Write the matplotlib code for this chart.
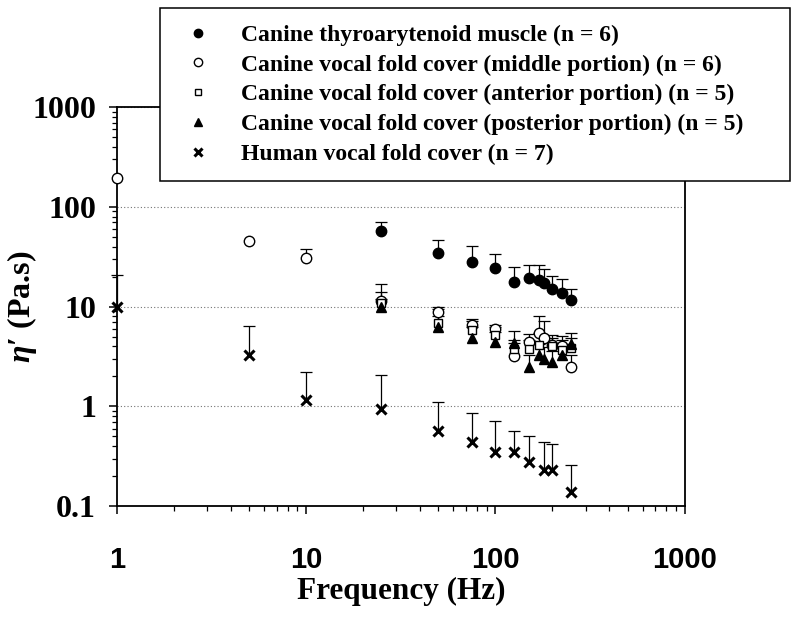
import numpy as np
import matplotlib
matplotlib.use('Agg')
import matplotlib.pyplot as plt
from matplotlib.lines import Line2D
from matplotlib.ticker import NullFormatter

plt.rcParams['mathtext.fontset'] = 'custom'
plt.rcParams['mathtext.it'] = 'Liberation Serif:italic:bold'
plt.rcParams['mathtext.rm'] = 'Liberation Serif:bold'
plt.rcParams['mathtext.bf'] = 'Liberation Serif:bold'

# --- данные (среднее и верхняя граница планки) ---
freq_ta = [25, 50, 75, 100, 125, 150, 170, 180, 200, 225, 250]
ta_mean = [57, 34.5, 28, 24.6, 17.6, 19.2, 18.3, 17.1, 14.9, 13.8, 11.6]
ta_upper = [70, 47, 40.5, 34, 25, 26, 26, 23.7, 20.3, 18.8, 15.2]

freq_mid = [1, 5, 10, 25, 50, 75, 100, 125, 150, 170, 180, 200, 225, 250]
mid_mean = [195, 45.5, 31, 11.5, 8.8, 6.6, 6.0, 3.2, 4.4, 5.5, 4.8, 4.1, 4.0, 2.5]
mid_upper = [195, 45.5, 38, 17, 10, 7.6, 6.6, 4.3, 5.3, 8.0, 7.2, 5.2, 5.1, 3.3]

freq_ant = [25, 50, 75, 100, 125, 150, 170, 200, 225, 250]
ant_mean = [11, 6.8, 5.8, 5.2, 3.8, 3.8, 4.15, 4.0, 3.7, 3.85]
ant_upper = [14, 9.5, 7.2, 6.3, 4.6, 4.6, 5.4, 4.8, 4.6, 4.9]

freq_post = [25, 50, 75, 100, 125, 150, 170, 180, 200, 225, 250]
post_mean = [10, 6.3, 4.9, 4.4, 4.3, 2.5, 3.3, 3.0, 2.8, 3.3, 4.2]
post_upper = [12, 8.0, 6.3, 5.6, 5.7, 3.3, 4.2, 3.9, 3.6, 4.2, 5.5]

freq_hum = [1, 5, 10, 25, 50, 75, 100, 125, 150, 180, 200, 250]
hum_mean = [10, 3.25, 1.15, 0.95, 0.57, 0.44, 0.35, 0.35, 0.28, 0.23, 0.23, 0.138]
hum_upper = [20.6, 6.4, 2.2, 2.05, 1.1, 0.85, 0.72, 0.57, 0.50, 0.435, 0.415, 0.26]

labels = [
    "Canine thyroarytenoid muscle (n = 6)",
    "Canine vocal fold cover (middle portion) (n = 6)",
    "Canine vocal fold cover (anterior portion) (n = 5)",
    "Canine vocal fold cover (posterior portion) (n = 5)",
    "Human vocal fold cover (n = 7)",
]

styles = [
    dict(marker='o', ms=7.5, mfc='black', mec='black', mew=1),
    dict(marker='o', ms=7.5, mfc='white', mec='black', mew=1),
    dict(marker='s', ms=6.2, mfc='white', mec='black', mew=1),
    dict(marker='^', ms=7.2, mfc='black', mec='black', mew=1),
    dict(marker='x', ms=6.5, mfc='black', mec='black', mew=2.2),
]

fig = plt.figure(figsize=(8, 6.18), dpi=100)
ax = fig.add_axes([0.146, 0.181, 0.71, 0.6456])


def draw_series(f, mean, upper, style):
    f = np.asarray(f, float)
    mean = np.asarray(mean, float)
    upper = np.asarray(upper, float)
    has = upper > mean * 1.001
    ax.vlines(f[has], mean[has], upper[has], colors='black', lw=0.9,
              zorder=2, clip_on=False)
    ax.plot(f[has], upper[has], ls='none', marker='_', ms=9, mew=0.9,
            color='black', zorder=2, clip_on=False)
    ax.plot(f, mean, ls='none', zorder=3, clip_on=False, **style)


series = [
    (freq_ta, ta_mean, ta_upper),
    (freq_mid, mid_mean, mid_upper),
    (freq_ant, ant_mean, ant_upper),
    (freq_post, post_mean, post_upper),
    (freq_hum, hum_mean, hum_upper),
]
for (f, m, u), st in zip(series, styles):
    draw_series(f, m, u, st)

ax.set_xscale('log')
ax.set_yscale('log')
ax.set_xlim(1, 1000)
ax.set_ylim(0.1, 1000)

ax.set_axisbelow(True)
ax.grid(True, axis='y', which='major', ls=(0, (1, 2)), color='0.45', lw=0.8)

for sp in ax.spines.values():
    sp.set_linewidth(1.3)

ax.tick_params(which='major', direction='out', length=6, width=1.1,
               top=False, right=False)
ax.tick_params(which='minor', direction='out', length=3.5, width=0.9,
               top=False, right=False)
ax.tick_params(axis='x', which='major', pad=23)
ax.tick_params(axis='y', which='major', pad=9)

ax.set_xticks([1, 10, 100, 1000], labels=['1', '10', '100', '1000'],
              fontfamily='Liberation Sans', fontweight='bold', fontsize=21)
ax.set_yticks([0.1, 1, 10, 100, 1000], labels=['0.1', '1', '10', '100', '1000'],
              fontfamily='Liberation Serif', fontweight='bold', fontsize=23)
ax.xaxis.set_minor_formatter(NullFormatter())
ax.yaxis.set_minor_formatter(NullFormatter())

ax.set_xlabel("Frequency (Hz)", fontfamily='Liberation Serif',
              fontweight='bold', fontsize=22.5, labelpad=2)
ax.set_ylabel(r"$\eta$′ (Pa.s)", fontfamily='Liberation Serif',
              fontweight='bold', fontsize=23)
ax.yaxis.set_label_coords(-0.137, 0.5)

handles = [Line2D([], [], ls='none', **st) for st in styles]
leg = fig.legend(handles, labels, loc='upper left',
                 bbox_to_anchor=(0.2, 0.70, 0.7875, 0.2875), mode='expand',
                 prop=dict(family='Liberation Serif', weight='bold', size=17),
                 frameon=True, fancybox=False, edgecolor='black', framealpha=1,
                 borderaxespad=0, borderpad=0.7, handlelength=1.8,
                 handletextpad=0.95, labelspacing=0.35, markerscale=0.8)
leg.get_frame().set_linewidth(1.1)

fig.savefig('out.png', dpi=100)
